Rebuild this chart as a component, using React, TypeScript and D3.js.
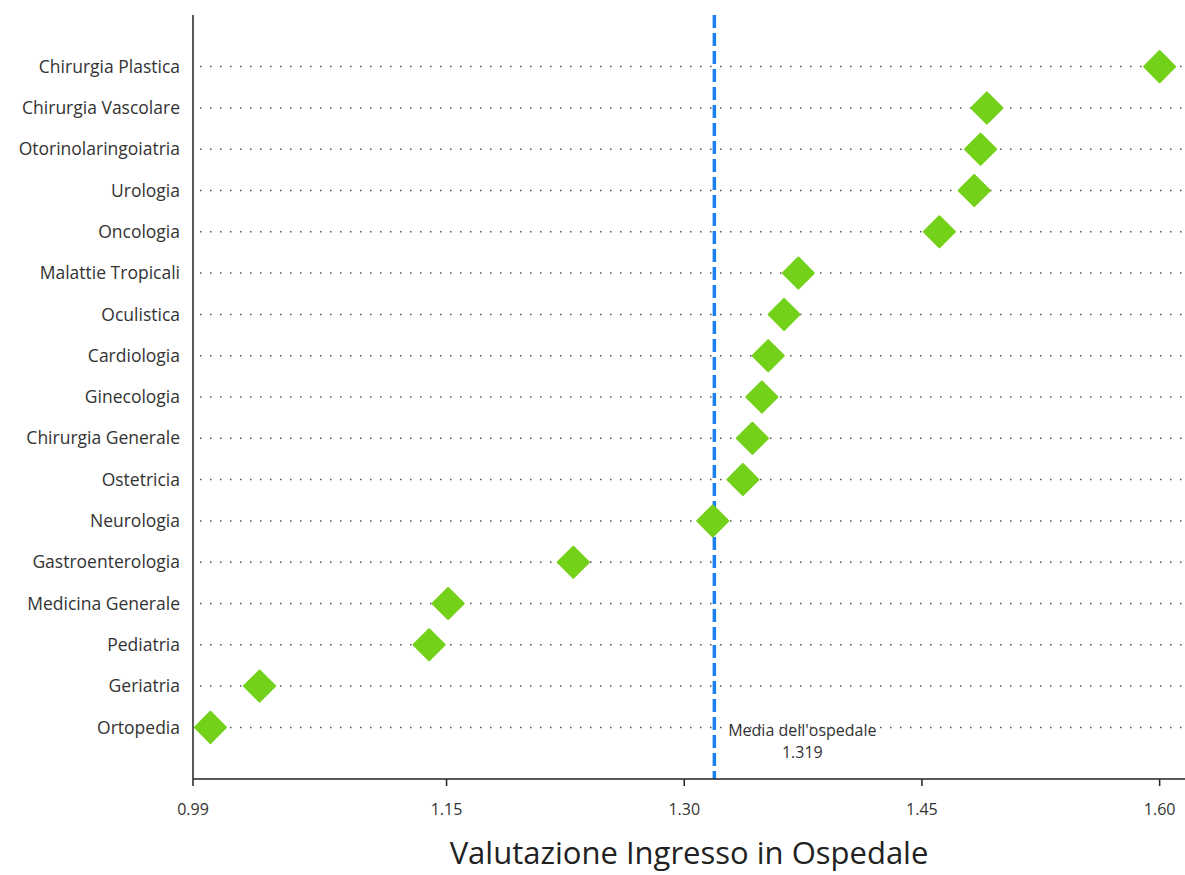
import * as React from "react";
import * as d3 from "d3";

const categories = [
    "Chirurgia Plastica", "Chirurgia Vascolare", "Otorinolaringoiatria", "Urologia", "Oncologia",
    "Malattie Tropicali", "Oculistica", "Cardiologia", "Ginecologia", "Chirurgia Generale",
    "Ostetricia", "Neurologia", "Gastroenterologia", "Medicina Generale", "Pediatria",
    "Geriatria", "Ortopedia"
];
const values = [
    1.600, 1.491, 1.487, 1.483, 1.461,
    1.372, 1.363, 1.353, 1.349, 1.343,
    1.337, 1.318, 1.230, 1.151, 1.139,
    1.032, 1.001
];
const tickValues = [0.99, 1.15, 1.30, 1.45, 1.60];
const hospitalMean = 1.319;
const meanLabel = "Media dell'ospedale";
const xTitle = "Valutazione Ingresso in Ospedale";

const font = "'Open Sans', 'DejaVu Sans', sans-serif";

export default function App() {
    const width = 1185, height = 875;
    const left = 193, right = 1185, top = 15, bottom = 779;

    const xScale = d3.scaleLinear().domain([0.99, 1.616]).range([left, right]);
    const yScale = d3.scalePoint<string>().domain(categories).range([top, bottom]).padding(1.25);

    const diamond = d3.symbol().type(d3.symbolSquare).size(22 * 22);
    const meanX = xScale(hospitalMean);
    const labelX = meanX + 88;
    const labelY = (yScale("Ortopedia") || 0) + 3;

    return <svg width={width} height={height} style={{ position: "absolute", left: 0, top: 0, fontFamily: font }}>
        {categories.map((c) => {
            const y = yScale(c) || 0;
            return <g key={c}>
                <line x1={left + 7} x2={right} y1={y} y2={y} stroke="#555" strokeWidth={1.5}
                    strokeDasharray="1.5,8.5" />
                <text x={left - 13} y={y} dy="0.35em" textAnchor="end" fontSize={17.5} fill="#333">{c}</text>
            </g>;
        })}

        <line x1={meanX} x2={meanX} y1={top} y2={bottom}
            stroke="#1a7ff0" strokeWidth={3.5} strokeDasharray="13,5" />
        <text x={labelX} y={labelY} dy="0.35em" textAnchor="middle" fontSize={16} fill="#333">{meanLabel}</text>
        <text x={labelX} y={labelY + 22} dy="0.35em" textAnchor="middle" fontSize={16} fill="#333">{hospitalMean.toFixed(3)}</text>

        {categories.map((c, i) => (
            <path key={c} d={diamond() || ""} fill="#74d11a" stroke="#74d11a" strokeWidth={2} strokeLinejoin="round"
                transform={`translate(${xScale(values[i])},${yScale(c)}) rotate(45)`} />
        ))}

        <line x1={left} x2={left} y1={top} y2={bottom} stroke="#222" strokeWidth={1.5} />
        <line x1={left} x2={right} y1={bottom} y2={bottom} stroke="#222" strokeWidth={1.5} />
        {tickValues.map(t => (
            <g key={t} transform={`translate(${xScale(t)},${bottom})`}>
                <line y2={7} stroke="#222" strokeWidth={1.5} />
                <text y={36} textAnchor="middle" fontSize={16} fill="#333">{t.toFixed(2)}</text>
            </g>
        ))}
        <text x={(left + right) / 2} y={864} textAnchor="middle" fontSize={31} fill="#222">{xTitle}</text>
    </svg>;
}
